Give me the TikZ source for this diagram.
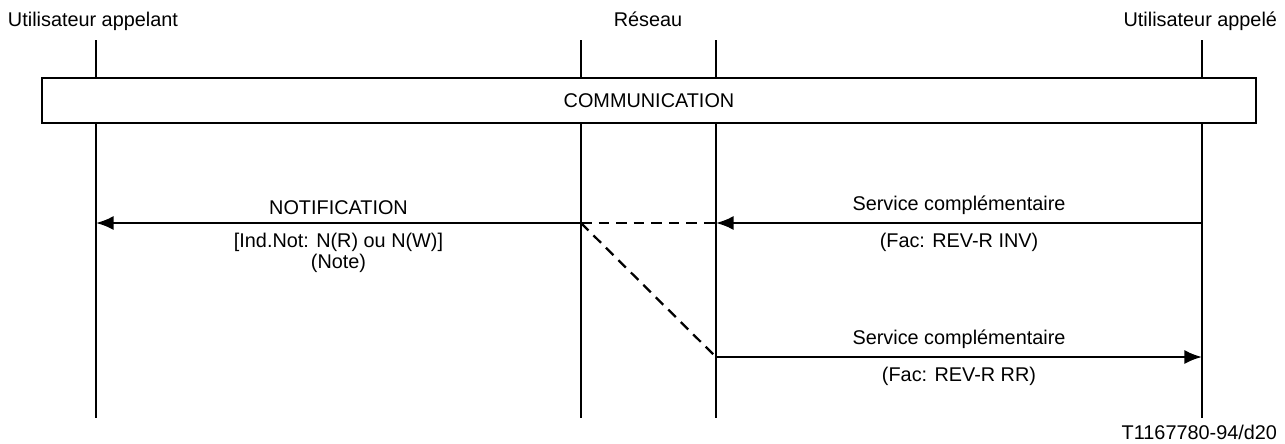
\documentclass[tikz,border=0pt]{standalone}
\usepackage{fontspec}
\setmainfont{Liberation Sans}
\usetikzlibrary{arrows.meta}

\begin{document}
\begin{tikzpicture}[x=0.02cm, y=-0.02cm, line width=1.3pt, font=\fontsize{11.3}{13.5}\selectfont,
  >={Latex[length=10pt,width=8pt]}]
\useasboundingbox (0,0) rectangle (1285,443);
\node[anchor=base west] (u1) at (1,26) {Utilisateur appelant};
\node[anchor=base] (r) at (648,26) {Réseau};
\node[anchor=base east] (u2) at (1284,26) {Utilisateur appelé};
\coordinate (a1) at (96,40);  \coordinate (a2) at (96,418);
\coordinate (b1) at (581,40); \coordinate (b2) at (581,418);
\coordinate (c1) at (716,40); \coordinate (c2) at (716,418);
\coordinate (d1) at (1202,40); \coordinate (d2) at (1202,418);
\draw (a1)--(a2);
\draw (b1)--(b2);
\draw (c1)--(c2);
\draw (d1)--(d2);
\node[draw, fill=white, minimum width=24.28cm, minimum height=0.9cm] (comm) at (649,100.5) {COMMUNICATION};
% Messages:
\coordinate (n1) at (581,223); \coordinate (n2) at (96,223);
\coordinate (s1) at (1202,223); \coordinate (s2) at (716,223);
\coordinate (t1) at (716,357); \coordinate (t2) at (1202,357);
\draw [->] (n1)--(n2) node [midway, above=1pt] {NOTIFICATION}
  node [midway, below=2pt, align=center, font=\fontsize{11.3}{10.3}\selectfont] {[Ind.Not: N(R) ou N(W)]\\(Note)};
\draw [->] (s1)--(s2) node [midway, above=1pt] {Service complémentaire}
  node [midway, below=2pt] {(Fac: REV-R INV)};
\draw [->] (t1)--(t2) node [midway, above=1pt] {Service complémentaire}
  node [midway, below=2pt] {(Fac: REV-R RR)};
\draw [dashed, dash pattern=on 6pt off 4pt] (n1)--(s2);
\draw [dashed, dash pattern=on 6pt off 4pt] (n1)--(t1);
\node[anchor=east] (ref) at (1284,432) {T1167780-94/d20};
\end{tikzpicture}
\end{document}
